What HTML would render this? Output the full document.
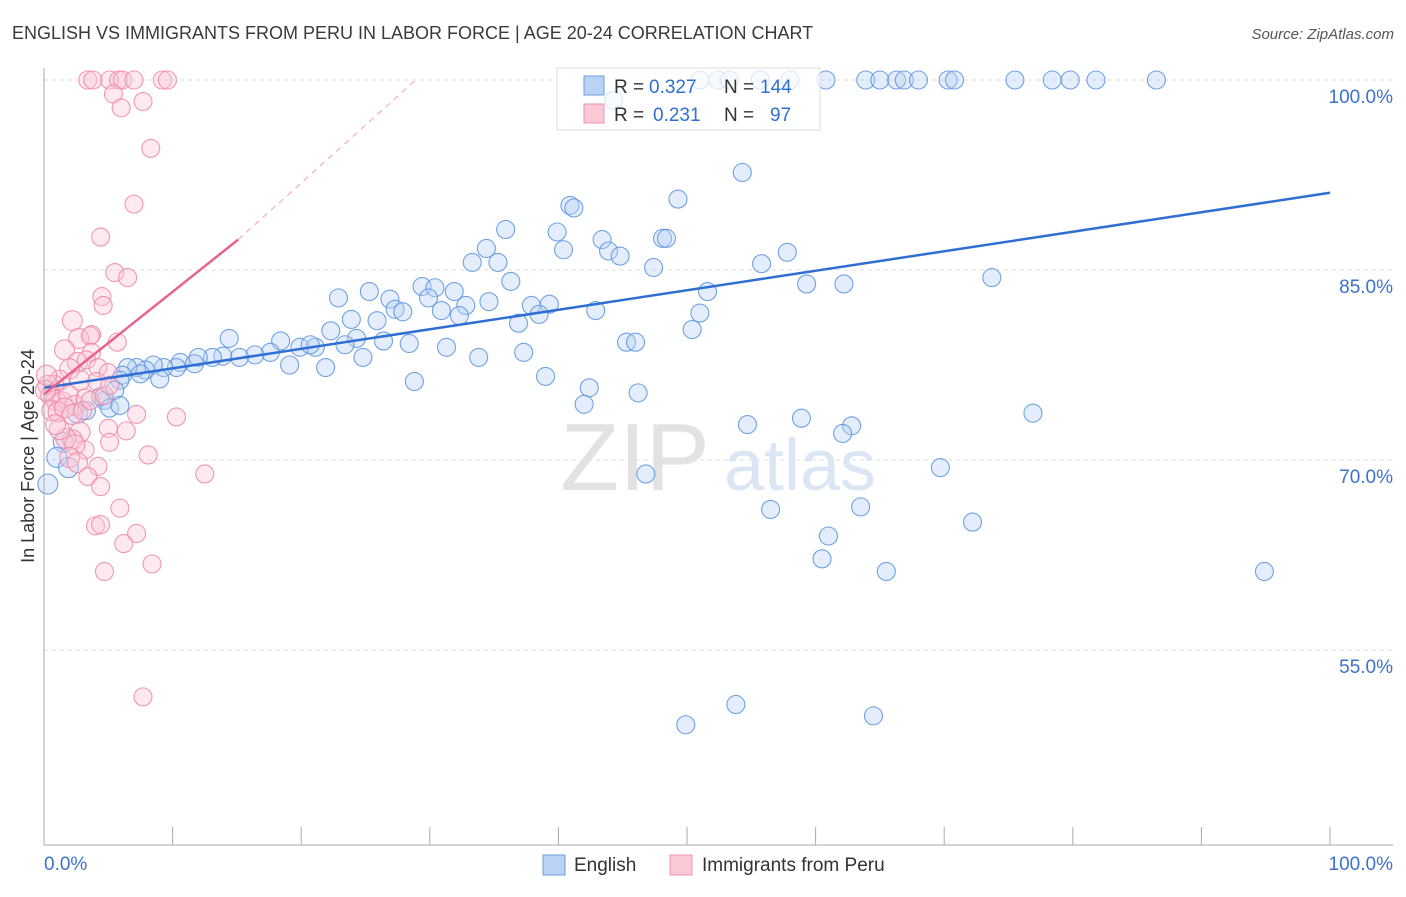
<!DOCTYPE html>
<html><head><meta charset="utf-8">
<style>
body{margin:0;background:#fff;font-family:"Liberation Sans",sans-serif;}
svg text{font-family:"Liberation Sans",sans-serif;}
</style></head>
<body>
<svg id="chart" width="1406" height="892" xmlns="http://www.w3.org/2000/svg">
<text x="12" y="39" font-size="18" fill="#3a3a3a">ENGLISH VS IMMIGRANTS FROM PERU IN LABOR FORCE | AGE 20-24 CORRELATION CHART</text>
<text x="1394" y="39" font-size="15" fill="#555" text-anchor="end" font-style="italic">Source: ZipAtlas.com</text>
<g id="grid"></g>
<text x="635" y="490" font-size="96" fill="#e2e2e2" font-family="Liberation Serif" text-anchor="middle">ZIP</text>
<text x="800" y="490" font-size="72" fill="#dbe6f5" text-anchor="middle">atlas</text>
<g id="pts"></g>
<g id="trend"></g>
<g>
<rect x="557" y="68" width="263" height="62" fill="#fff" fill-opacity="0.75" stroke="#ddd"/>
<rect x="584" y="76" width="20" height="19" fill="#b9d3f5" stroke="#6a9de0"/>
<rect x="584" y="104" width="20" height="19" fill="#fbc8d6" stroke="#ee93ae"/>
<text x="614" y="93" font-size="19" fill="#333">R =</text>
<text x="649" y="93" font-size="19" fill="#2f6fd4">0.327</text>
<text x="724" y="93" font-size="19" fill="#333">N =</text>
<text x="760" y="93" font-size="19" fill="#2f6fd4">144</text>
<text x="614" y="121" font-size="19" fill="#333">R =</text>
<text x="653" y="121" font-size="19" fill="#2f6fd4">0.231</text>
<text x="724" y="121" font-size="19" fill="#333">N =</text>
<text x="770" y="121" font-size="19" fill="#2f6fd4">97</text>
</g>
<g id="axes"></g>
<text transform="translate(34,456) rotate(-90)" font-size="18" fill="#333" text-anchor="middle">In Labor Force | Age 20-24</text>
<g>
<rect x="543" y="855" width="22" height="20" fill="#b9d3f5" stroke="#6a9de0"/>
<text x="574" y="871" font-size="19" fill="#333">English</text>
<rect x="670" y="855" width="22" height="20" fill="#fbc8d6" stroke="#ee93ae"/>
<text x="702" y="871" font-size="19" fill="#333">Immigrants from Peru</text>
</g>
</svg>
<script>
const yTicks=[100,85,70,55];
const yTickLabels=["100.0%","85.0%","70.0%","55.0%"];
const xTickLabels=["0.0%","100.0%"];
const englishX=[51.0,52.4,53.3,55.7,58.0,60.8,63.9,65.0,66.3,66.9,68.0,70.3,70.8,75.5,78.4,79.8,81.8,86.5,44.3,54.3,49.3,40.9,41.2,35.9,39.9,43.4,48.1,48.4,34.4,40.4,43.9,44.8,33.3,35.3,47.4,55.8,57.8,73.7,36.3,59.3,62.2,29.4,30.4,25.3,22.9,51.6,26.9,29.9,31.9,34.6,37.9,39.3,32.8,27.3,27.9,30.9,42.9,51.0,23.9,25.9,32.3,36.9,38.5,22.3,50.4,24.3,28.4,26.4,23.4,14.4,45.3,46.0,31.3,37.3,24.8,33.8,18.4,19.9,21.1,20.7,19.1,21.9,17.6,16.4,15.2,13.9,13.1,12.0,10.6,10.3,11.7,9.3,8.5,7.9,7.2,6.5,7.5,9.0,6.1,5.9,39.0,42.4,28.8,46.2,42.0,76.9,54.7,58.9,62.8,62.1,4.7,4.4,5.5,2.6,3.3,69.7,46.8,72.2,63.5,56.5,61.0,60.5,65.5,94.9,53.8,49.9,64.5,1.5,1.0,1.9,0.3,5.1,5.9];
const englishY=[100,100,100,100,100,100,100,100,100,100,100,100,100,100,100,100,100,100,98.4,92.7,90.6,90.1,89.9,88.2,88.0,87.4,87.5,87.5,86.7,86.6,86.5,86.1,85.6,85.6,85.2,85.5,86.4,84.4,84.1,83.9,83.9,83.7,83.6,83.3,82.8,83.3,82.7,82.8,83.3,82.5,82.2,82.3,82.2,81.9,81.7,81.8,81.8,81.6,81.1,81.0,81.4,80.8,81.5,80.2,80.3,79.6,79.2,79.4,79.1,79.6,79.3,79.3,78.9,78.5,78.1,78.1,79.4,78.9,78.9,79.1,77.5,77.3,78.5,78.3,78.1,78.2,78.1,78.1,77.7,77.3,77.6,77.3,77.5,77.1,77.3,77.3,76.8,76.4,76.7,76.3,76.6,75.7,76.2,75.3,74.4,73.7,72.8,73.3,72.7,72.1,74.7,75.0,75.5,73.7,73.9,69.4,68.9,65.1,66.3,66.1,64.0,62.2,61.2,61.2,50.7,49.1,49.8,71.4,70.2,69.4,68.1,74.1,74.3];
const peruX=[3.4,3.8,5.1,5.8,6.1,7.0,9.2,9.6,5.4,6.0,7.7,8.3,7.0,4.4,5.5,6.5,4.5,4.6,2.2,3.7,2.7,3.6,1.6,3.7,5.7,2.6,3.3,2.0,4.2,1.2,0.8,2.8,4.1,5.0,0.3,0.5,0.9,1.4,1.9,2.4,3.2,0.6,1.1,1.6,2.2,3.0,3.6,4.7,5.1,0.1,0.2,7.2,10.3,6.4,5.0,2.8,2.2,1.7,3.2,2.4,5.1,8.1,2.0,2.6,4.2,3.4,4.4,12.5,5.9,4.0,4.4,7.2,6.2,4.7,8.4,7.7,1.2,0.9];
const peruY=[100,100,100,100,100,100,100,100,98.9,97.8,98.3,94.6,90.2,87.6,84.8,84.4,82.9,82.2,81.0,79.9,79.6,79.8,78.7,78.5,79.3,77.7,77.9,77.2,77.3,76.3,75.9,76.3,76.2,76.9,75.9,75.1,74.7,74.6,75.1,74.3,74.9,73.9,73.8,74.1,73.6,73.9,74.7,75.1,75.9,75.5,76.7,73.6,73.4,72.3,72.5,72.2,71.6,71.7,70.8,71.2,71.4,70.4,70.2,69.8,69.5,68.7,67.9,68.9,66.2,64.8,64.9,64.2,63.4,61.2,61.8,51.3,72.4,72.8];
const englishTrend=[[0,75.7],[100,91.1]];
const peruTrendSolid=[[0,75.2],[15.1,87.4]];
const peruTrendDash=[[15.1,87.4],[28.9,100]];

const NS="http://www.w3.org/2000/svg";
const X=v=>44+v*12.86, Y=v=>80+(100-v)*12.667;
function mk(t,a,p){const e=document.createElementNS(NS,t);for(const k in a)e.setAttribute(k,a[k]);p.appendChild(e);return e;}
const grid=document.getElementById('grid'),axes=document.getElementById('axes'),pts=document.getElementById('pts'),tr=document.getElementById('trend');
yTicks.forEach((v,i)=>{
 const l=mk('line',{x1:44,x2:1393,y1:Y(v),y2:Y(v),stroke:'#ddd','stroke-dasharray':'4,4'},grid);
 
 
 const t=mk('text',{x:1393,y:Y(v)+23,'font-size':19,fill:'#3d72cc','text-anchor':'end'},axes);
 t.textContent=yTickLabels[i];
 
 
});
const al=mk('line',{x1:44,x2:44,y1:68,y2:845,stroke:'#aaa'},axes);


const bl=mk('line',{x1:44,x2:1393,y1:845,y2:845,stroke:'#aaa'},axes);


for(let i=0;i<=10;i++){const tk=mk('line',{x1:X(i*10),x2:X(i*10),y1:827,y2:845,stroke:'#aaa'},axes);
 
 }
[[0,'start',44],[100,'end',1393]].forEach((d,i)=>{const t=mk('text',{x:d[2],y:870,'font-size':19,fill:'#3d72cc','text-anchor':d[1]},axes);t.textContent=xTickLabels[i];
 
 });
function dots(xs,ys,fill,stroke,name){xs.forEach((x,i)=>{const c=mk('circle',{cx:X(x),cy:Y(ys[i]),r:(x<3?10:9),fill:fill,'fill-opacity':0.4,stroke:stroke,'stroke-opacity':0.85,'stroke-width':1.1},pts);
 
 });}
dots(englishX,englishY,'#b9d3f5','#5b93de','english-point');
dots(peruX,peruY,'#fbc8d6','#ee86a6','peru-point');
function line(d,st,w,dash,name){const l=mk('line',{x1:X(d[0][0]),y1:Y(d[0][1]),x2:X(d[1][0]),y2:Y(d[1][1]),stroke:st,'stroke-width':w},tr);if(dash)l.setAttribute('stroke-dasharray',dash);
 
 }
line(englishTrend,'#2f6fd4',2.5,null,'english-trend-line');
line(peruTrendSolid,'#e8638c',2.5,null,'peru-trend-line');
line(peruTrendDash,'#f0a0b8',1,'6,5','peru-trend-extension');
</script>
</body></html>
